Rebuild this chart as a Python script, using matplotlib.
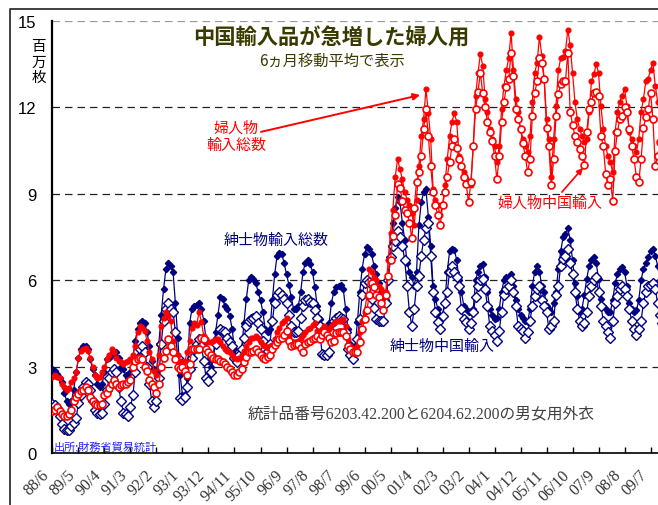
import numpy as np
import matplotlib
matplotlib.use("Agg")
import matplotlib.pyplot as plt
from matplotlib.lines import Line2D

# 6-month moving averages, million pieces, monthly from 1988/6
# (first row 1988 Jun-Dec, then one row per calendar year)
WOMEN_TOTAL = [
    2.65, 2.7, 2.65, 2.6, 2.4, 2.3, 2.2,
    2.25, 2.45, 2.6, 2.8, 3.3, 3.55, 3.6, 3.65, 3.55, 3.3, 3.0, 2.7,
    2.6, 2.65, 2.8, 3.0, 3.25, 3.4, 3.6, 3.5, 3.3, 3.2, 3.15, 3.1,
    3.15, 3.2, 3.25, 3.4, 3.7, 4.2, 4.4, 4.35, 4.25, 3.9, 3.5, 3.25,
    2.85, 2.7, 3.4, 4.4, 4.7, 4.9, 4.75, 4.6, 3.9, 3.5, 3.4, 3.2,
    3.1, 3.2, 3.5, 3.9, 4.35, 4.5, 4.45, 4.9, 4.55, 4.05, 3.95, 3.85,
    3.85, 3.9, 3.95, 3.95, 3.85, 3.7, 3.6, 3.55, 3.5, 3.4, 3.3, 3.25,
    3.3, 3.4, 3.55, 3.7, 3.85, 4.0, 4.0, 4.05, 4.0, 3.85, 3.75, 3.7,
    3.65, 3.7, 3.75, 3.95, 4.2, 4.35, 4.5, 4.6, 4.7, 4.05, 3.9, 3.85,
    3.85, 3.9, 4.0, 4.1, 4.2, 4.3, 4.35, 4.45, 4.5, 4.25, 4.25, 4.3,
    4.4, 4.3, 4.3, 4.4, 4.5, 4.6, 4.6, 4.6, 4.65, 4.4, 3.95, 3.7,
    3.6, 3.55, 3.7, 4.2, 4.6, 4.9, 5.45, 6.4, 6.3, 6.1, 6.0, 5.8,
    5.7, 5.6, 5.6, 6.7, 7.65, 8.45, 9.6, 10.2, 9.85, 9.5, 9.05, 8.8,
    8.6, 8.35, 7.9, 8.8, 9.95, 11.0, 11.6, 12.65, 11.8, 10.9, 9.15, 8.8,
    8.6, 8.25, 8.6, 9.3, 10.2, 11.0, 11.5, 11.8, 11.5, 10.3, 9.95, 9.75,
    9.5, 9.4, 9.3, 10.65, 12.4, 13.2, 13.85, 13.45, 12.3, 11.85, 11.25, 10.9,
    10.65, 10.1, 10.65, 11.95, 12.75, 13.3, 13.7, 14.6, 13.3, 12.3, 11.85, 11.25,
    10.9, 10.65, 10.45, 11.0, 12.2, 13.2, 13.55, 14.45, 13.8, 13.0, 11.6, 10.9,
    9.6, 10.9, 12.05, 13.3, 13.7, 13.75, 13.95, 14.7, 14.15, 13.2, 12.2, 11.6,
    11.25, 11.0, 10.8, 10.9, 11.85, 12.9, 13.15, 13.5, 13.2, 12.05, 11.25, 10.65,
    10.3, 10.1, 9.75, 11.15, 11.85, 12.2, 12.4, 12.65, 12.05, 11.15, 10.9, 10.65,
    10.45, 10.9, 11.85, 12.3, 12.9, 13.0, 13.3, 13.55, 12.75, 12.2, 11.6, 11.2,
]
WOMEN_CHINA = [
    1.45, 1.5, 1.6, 1.45, 1.35, 1.3, 1.3,
    1.35, 1.5, 1.8, 1.95, 2.05, 2.15, 2.2, 2.3, 2.2, 1.95, 1.8, 1.7,
    1.65, 1.65, 1.7, 2.0, 2.1, 2.25, 2.4, 2.55, 2.4, 2.3, 2.35, 2.4,
    2.4, 2.45, 2.55, 3.0, 3.2, 3.25, 3.3, 3.25, 3.0, 2.85, 2.55, 2.4,
    2.3, 2.1, 2.4, 3.0, 3.3, 3.55, 3.95, 3.7, 3.5, 3.25, 3.0, 2.9,
    3.0, 2.85, 2.7, 3.1, 3.6, 3.6, 3.6, 3.6, 4.0, 3.95, 3.6, 3.5,
    3.4, 3.3, 3.25, 3.25, 3.2, 3.15, 3.1, 3.0, 2.9, 2.8, 2.7, 2.7,
    2.8, 2.9, 3.15, 3.35, 3.5, 3.5, 3.55, 3.6, 3.5, 3.4, 3.3, 3.25,
    3.35, 3.4, 3.6, 3.75, 3.85, 3.95, 4.0, 4.1, 4.25, 3.9, 3.7, 3.75,
    3.8, 3.8, 3.65, 3.5, 3.8, 3.85, 3.9, 3.95, 4.0, 4.05, 3.95, 4.1,
    4.2, 4.1, 4.0, 3.85, 3.9, 4.15, 4.2, 4.2, 4.2, 4.05, 3.7, 3.6,
    3.5, 3.5, 3.5, 3.85, 4.3, 4.65, 4.95, 5.5, 5.9, 5.75, 5.5, 5.4,
    5.2, 4.95, 5.5, 6.15, 6.7, 7.55, 8.25, 9.35, 9.2, 8.75, 8.45, 8.35,
    8.0, 7.45, 8.5, 9.4, 9.75, 10.3, 11.25, 11.95, 11.0, 9.95, 9.05, 8.6,
    8.25, 7.9, 8.6, 9.05, 9.6, 10.1, 10.65, 10.9, 10.6, 10.2, 9.95, 9.6,
    9.35, 8.7, 9.4, 10.65, 11.95, 12.55, 13.2, 12.5, 12.0, 11.5, 11.15, 10.85,
    10.3, 9.5, 10.3, 11.5, 12.2, 12.7, 13.0, 13.9, 13.1, 11.95, 11.6, 11.25,
    10.75, 10.3, 9.75, 10.2, 11.7, 12.5, 12.9, 13.7, 13.55, 13.0, 11.3, 10.65,
    9.3, 10.2, 11.7, 12.45, 12.8, 12.9, 12.9, 13.9, 11.85, 11.4, 11.0, 10.8,
    10.55, 10.3, 10.0, 11.15, 11.95, 12.2, 12.5, 12.55, 12.4, 11.0, 10.65, 9.7,
    9.3, 9.5, 8.75, 10.5, 11.15, 11.6, 11.7, 12.0, 11.85, 11.25, 10.65, 10.2,
    9.6, 9.4, 10.2, 11.3, 11.65, 11.95, 12.5, 11.6, 9.95, 10.3, 10.8, 11.0,
]
MEN_TOTAL = [
    2.9, 2.85, 2.75, 2.6, 2.45, 2.1, 1.8,
    1.7, 1.8, 2.2, 2.8, 3.3, 3.6, 3.7, 3.7, 3.6, 3.25, 2.9, 2.7,
    2.4, 2.3, 2.4, 2.8, 3.25, 3.3, 3.4, 3.5, 3.5, 3.3, 3.0, 2.9,
    2.7, 2.6, 2.8, 3.3, 3.9, 4.3, 4.5, 4.6, 4.5, 4.2, 3.7, 3.2,
    2.9, 2.8, 3.8, 4.8, 5.7, 6.4, 6.6, 6.5, 6.3, 5.2, 4.0, 2.7,
    2.0, 2.0, 2.6, 4.5, 5.0, 5.1, 5.15, 5.2, 5.0, 4.6, 3.9, 3.2,
    3.0, 3.3, 4.2, 4.8, 5.4, 5.35, 5.1, 5.0, 4.75, 4.3, 3.6, 3.3,
    3.25, 3.6, 4.5, 5.35, 6.0, 6.1, 6.05, 5.9, 5.6, 5.3, 4.9, 4.3,
    4.2, 4.3, 5.3, 6.2, 6.85, 6.95, 6.9, 6.6, 6.2, 5.85, 5.4, 5.0,
    5.0, 5.1, 5.6, 6.3, 6.6, 6.7, 6.55, 6.3, 5.75, 5.1, 4.65, 4.4,
    4.3, 4.3, 4.5, 5.2, 5.6, 5.75, 5.8, 5.85, 5.7, 5.0, 4.3, 3.8,
    3.5, 3.7, 4.55, 5.6, 6.4, 6.9, 7.15, 7.1, 6.9, 6.5, 6.2, 5.9,
    5.6, 5.4, 5.3, 6.0, 7.2, 8.0, 8.5, 8.9, 8.7, 8.0, 7.4, 6.6,
    6.3, 6.1, 5.8, 6.3, 7.9, 8.7, 9.05, 9.15, 8.2, 7.2, 5.8, 5.35,
    5.0, 4.75, 4.8, 5.25, 6.3, 7.0, 7.1, 7.05, 6.7, 6.0, 5.6, 5.1,
    5.0, 4.9, 4.9, 5.0, 6.0, 6.3, 6.5, 6.55, 6.1, 5.6, 5.0, 4.8,
    4.65, 4.7, 5.0, 5.6, 6.0, 6.1, 6.1, 6.2, 5.8, 5.3, 5.0, 4.8,
    4.7, 4.6, 4.55, 5.0, 5.8, 6.3, 6.5, 6.3, 5.8, 5.6, 5.1, 5.0,
    4.9, 5.2, 5.6, 6.4, 7.0, 7.5, 7.6, 7.8, 7.4, 6.7, 5.9, 5.45,
    4.9, 5.0, 5.5, 6.05, 6.5, 6.7, 6.8, 6.6, 6.05, 5.35, 5.1, 5.0,
    4.9, 4.9, 5.3, 5.9, 6.2, 6.4, 6.45, 6.3, 5.8, 5.2, 5.0, 4.9,
    4.95, 5.3, 6.0, 6.4, 6.6, 6.8, 7.0, 7.1, 6.85, 6.5, 6.0, 5.6,
]
MEN_CHINA = [
    1.7, 1.65, 1.55, 1.3, 1.0, 0.85, 0.8,
    0.8, 0.95, 1.05, 1.2, 1.75, 2.0, 2.3, 2.45, 2.4, 2.2, 1.8, 1.5,
    1.4, 1.35, 1.4, 1.7, 2.2, 2.6, 2.8, 2.9, 2.8, 2.3, 1.8, 1.4,
    1.35, 1.3, 1.6, 2.0, 2.8, 3.3, 3.6, 3.7, 3.5, 3.0, 2.4, 1.8,
    1.6, 1.8, 2.6, 3.8, 4.6, 5.0, 5.2, 5.0, 4.9, 4.2, 3.3, 1.9,
    1.85, 1.95, 2.3, 2.9, 3.3, 3.6, 3.8, 3.95, 3.7, 3.2, 2.6, 2.5,
    2.8, 3.35, 3.8, 4.0, 4.3, 4.25, 4.2, 4.0, 3.85, 3.7, 3.3, 3.15,
    3.4, 3.6, 4.0, 4.4, 4.6, 4.65, 4.7, 4.75, 4.5, 4.3, 3.9, 3.6,
    3.55, 3.8, 4.6, 5.2, 5.5, 5.6, 5.5, 5.35, 5.2, 4.8, 4.4, 4.2,
    4.2, 4.25, 4.7, 5.1, 5.3, 5.35, 5.25, 5.2, 4.95, 4.7, 4.4, 3.45,
    3.4, 3.4, 3.5, 4.2, 4.6, 4.7, 4.75, 4.7, 4.65, 4.2, 3.6, 3.4,
    3.25, 3.5, 3.95, 4.65, 5.5, 5.9, 6.0, 5.95, 5.35, 5.05, 4.65, 4.6,
    4.6, 4.6, 5.2, 6.0, 6.8, 7.2, 7.35, 7.7, 7.5, 7.2, 6.7, 5.8,
    4.9, 4.4, 5.0, 5.8, 6.15, 6.85, 7.4, 7.8, 8.0, 6.85, 5.6, 4.9,
    4.55, 4.3, 4.75, 5.2, 5.6, 6.3, 6.5, 6.3, 6.1, 5.8, 5.0, 4.65,
    4.55, 4.3, 4.5, 4.9, 5.4, 5.8, 6.0, 6.05, 5.7, 5.1, 4.4, 4.25,
    4.1, 3.9, 4.25, 4.9, 5.5, 5.7, 5.8, 6.0, 5.6, 5.1, 4.4, 4.3,
    4.25, 4.0, 4.2, 4.6, 5.1, 5.45, 5.7, 5.8, 5.3, 5.1, 4.9, 4.3,
    4.4, 4.6, 5.5, 5.8, 6.5, 6.75, 6.85, 7.1, 6.6, 6.2, 5.6, 5.0,
    4.6, 4.4, 4.5, 4.9, 5.45, 5.8, 6.0, 6.1, 5.6, 5.1, 4.6, 4.4,
    4.2, 4.0, 4.6, 5.2, 5.45, 5.7, 5.8, 5.7, 5.45, 5.0, 4.6, 4.3,
    4.1, 4.3, 4.6, 5.2, 5.6, 5.8, 5.85, 5.9, 5.7, 5.2, 4.8, 4.5,
]

TICK_LABELS = ["88/6", "89/5", "90/4", "91/3", "92/2", "93/1", "93/12", "94/11",
               "95/10", "96/9", "97/8", "98/7", "99/6", "00/5", "01/4", "02/3",
               "03/2", "04/1", "04/12", "05/11", "06/10", "07/9", "08/8", "09/7"]
TICK_STEP = 11
Y_TICKS = [0, 3, 6, 9, 12, 15]

JP = ["Noto Sans CJK JP", "DejaVu Sans"]
RED = "#ff0000"
NAVY = "#000080"
OLIVE = "#3a3a00"


def main():
    plt.rcParams['font.family'] = JP
    fig = plt.figure(figsize=(6.58, 5.06), dpi=100)
    ax = fig.add_axes([52 / 658, 52 / 506, 606 / 658, 432 / 506])

    x = np.arange(len(WOMEN_TOTAL))
    ax.plot(x, MEN_TOTAL, color=NAVY, lw=0.9, marker='D', ms=3.2, mfc=NAVY, mec=NAVY, zorder=3)
    ax.plot(x, MEN_CHINA, color=NAVY, lw=0.9, marker='D', ms=4.6, mfc='white', mec=NAVY, mew=1.0, zorder=4)
    ax.plot(x, WOMEN_TOTAL, color=RED, lw=0.9, marker='o', ms=3.4, mfc=RED, mec=RED, zorder=5)
    ax.plot(x, WOMEN_CHINA, color=RED, lw=0.9, marker='o', ms=5.0, mfc='white', mec=RED, mew=1.2, zorder=6)

    ax.set_xlim(-0.2, 256.15)
    ax.set_ylim(0, 15)

    ax.set_yticks(Y_TICKS)
    ax.set_yticklabels([str(v) for v in Y_TICKS], family=["Liberation Sans"], fontsize=12)
    ax.tick_params(axis='y', length=0, pad=11)

    ax.set_xticks(np.arange(len(TICK_LABELS)) * TICK_STEP)
    ax.set_xticklabels(TICK_LABELS, rotation=45, ha='right', va='bottom', rotation_mode='anchor',
                       family=["Liberation Serif"], fontsize=11.5, color='#333333')
    ax.tick_params(axis='x', direction='in', length=4, width=1, pad=18)

    ax.grid(axis='y', linestyle=(0, (6, 4)), color='#222222', lw=0.9)
    ax.get_ygridlines()[-1].set_color('#999999')
    ax.set_axisbelow(True)
    for s in ['top', 'right']:
        ax.spines[s].set_visible(False)
    ax.spines['left'].set_linewidth(1.6)
    ax.spines['bottom'].set_linewidth(1.2)

    # titles
    fig.text(0.504, 0.924, "中国輸入品が急増した婦人用", ha='center', va='center',
             fontsize=15.3, fontweight='bold', color=OLIVE)
    fig.text(0.505, 0.879, "6ヵ月移動平均で表示", ha='center', va='center',
             fontsize=11, color=OLIVE)
    fig.text(0.0585, 0.8765, "百\n万\n枚", ha='center', va='center',
             fontsize=10.5, linespacing=1.15)

    # series labels
    ax.text(77.6, 11.0, "婦人物\n輸入総数", ha='center', va='center', color=RED,
            fontsize=10.8, linespacing=1.3)
    ax.annotate("", xy=(155.5, 12.43), xytext=(88.2, 11.15),
                arrowprops=dict(arrowstyle='-|>', color=RED, lw=1.4, mutation_scale=10,
                                shrinkA=0, shrinkB=0))
    ax.text(94.8, 7.4, "紳士物輸入総数", ha='center', va='center', color=NAVY, fontsize=10.8)
    ax.text(165.0, 3.73, "紳士物中国輸入", ha='center', va='center', color=NAVY, fontsize=10.8)
    ax.text(210.3, 8.7, "婦人物中国輸入", ha='center', va='center', color=RED, fontsize=10.8)
    ax.annotate("", xy=(224.4, 9.9), xytext=(215.5, 9.06),
                arrowprops=dict(arrowstyle='-|>', color=RED, lw=1.2, mutation_scale=9,
                                shrinkA=0, shrinkB=0))
    ax.text(82.7, 1.37, "統計品番号6203.42.200と6204.62.200の男女用外衣", ha='left', va='center',
            color='#404040', fontsize=11.3, family=["Liberation Serif", "Noto Sans CJK JP"])
    ax.text(0.65, 0.24, "出所;財務省貿易統計", ha='left', va='center', color='#2020ff', fontsize=8)

    # outer frame (top and left edges visible)
    fig.add_artist(Line2D([10 / 658, 10 / 658, 1.0], [0, 1 - 10 / 506, 1 - 10 / 506],
                          transform=fig.transFigure, color='#333333', lw=1.3))

    fig.savefig("out.png", dpi=100)


if __name__ == "__main__":
    main()
